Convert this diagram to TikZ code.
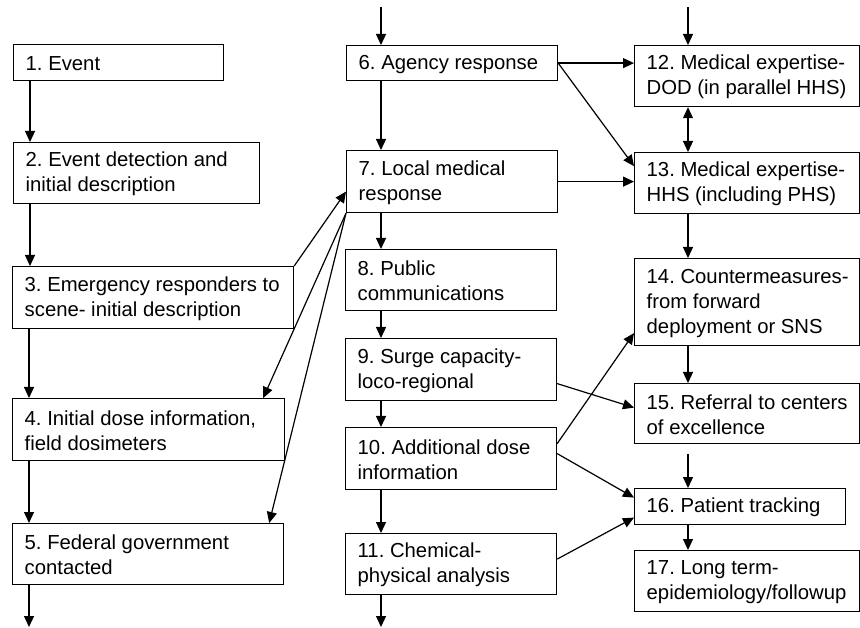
\documentclass[tikz,border=0pt]{standalone}
\usepackage{fontspec}
\setmainfont{Liberation Sans}
\frenchspacing
\usetikzlibrary{arrows.meta}
\newcommand\mybox[6]{%
  \node[boxnode, minimum width=#4-#2, minimum height=#5-#3] (#1) at (#2,#3) {};
  \node[txt] (#1t) at ([xshift=12.5pt,yshift=-1pt]#1.west) {#6};}
\begin{document}
\begin{tikzpicture}[x=1pt,y=-1pt,
  boxnode/.style={draw, line width=1.2pt, inner sep=0pt, anchor=north west},
  txt/.style={anchor=west, align=left, inner sep=0pt, font=\fontsize{20.3}{25}\selectfont\frenchspacing},
  arr/.style={line width=1.2pt, -{Triangle[length=11pt,width=10pt]}},
  darr/.style={line width=1.2pt, {Triangle[length=11pt,width=10pt]}-{Triangle[length=11pt,width=10pt]}},
]
\useasboundingbox (0,0) rectangle (860,628);
% left column
\mybox{b1}{13}{44}{223}{80}{1. Event}
\mybox{b2}{13}{142}{259}{203}{2. Event detection and\\initial description}
\mybox{b3}{12}{266}{293}{328}{3. Emergency responders to\\scene- initial description}
\mybox{b4}{12}{398}{284}{460}{4. Initial dose information,\\field dosimeters}
\mybox{b5}{12}{523}{283}{584}{5. Federal government\\contacted}
% middle column
\mybox{b6}{346}{45}{557}{80}{6. Agency response}
\mybox{b7}{346}{150}{557}{212}{7. Local medical\\response}
\mybox{b8}{345}{249}{556}{310}{8. Public\\communications}
\mybox{b9}{345}{338}{556}{400}{9. Surge capacity-\\loco-regional}
\mybox{b10}{345}{427}{556}{489}{10. Additional dose\\information}
\mybox{b11}{345}{533}{556}{594}{11. Chemical-\\physical analysis}
% right column
\mybox{b12}{634}{45}{859}{106}{12. Medical expertise-\\DOD (in parallel HHS)}
\mybox{b13}{634}{152}{859}{213}{13. Medical expertise-\\HHS (including PHS)}
\mybox{b14}{634}{258}{859}{345}{14. Countermeasures-\\from forward\\deployment or SNS}
\mybox{b15}{634}{383}{859}{443}{15. Referral to centers\\of excellence}
\mybox{b16}{634}{488}{845}{524}{16. Patient tracking}
\mybox{b17}{634}{550}{859}{611}{17. Long term-\\epidemiology/followup}

\coordinate (o5) at (29,627);
\coordinate (i6) at (381,7);
\coordinate (o11) at (381,627);
\coordinate (i12) at (688,7);

% left column arrows
\draw[arr] ([xshift=17pt]b1.south west) -- ([xshift=17pt]b1.south west |- b2.north);
\draw[arr] ([xshift=17pt]b2.south west) -- ([xshift=17pt]b2.south west |- b3.north);
\draw[arr] ([xshift=17pt]b3.south west) -- ([xshift=17pt]b3.south west |- b4.north);
\draw[arr] ([xshift=17pt]b4.south west) -- ([xshift=17pt]b4.south west |- b5.north);
\draw[arr] ([xshift=17pt]b5.south west) -- (o5);
% middle column arrows
\draw[arr] (i6) -- (i6 |- b6.north);
\draw[arr] (i6 |- b6.south) -- (i6 |- b7.north);
\draw[arr] (i6 |- b7.south) -- (i6 |- b8.north);
\draw[arr] (i6 |- b8.south) -- (i6 |- b9.north);
\draw[arr] (i6 |- b9.south) -- (i6 |- b10.north);
\draw[arr] (i6 |- b10.south) -- (i6 |- b11.north);
\draw[arr] (i6 |- b11.south) -- (o11);
% right column arrows
\draw[arr] (i12) -- (i12 |- b12.north);
\draw[darr] (i12 |- b12.south) -- (i12 |- b13.north);
\draw[arr] (i12 |- b13.south) -- (i12 |- b14.north);
\draw[arr] (i12 |- b14.south) -- (i12 |- b15.north);
\draw[arr] ([yshift=-10pt]i12 |- b15.south) -- (i12 |- b16.north);
\draw[arr] (i12 |- b16.south) -- (i12 |- b17.north);
% cross links
\draw[arr] (b6.east) -- (b6.east -| b12.west);
\draw[arr] (b6.east) -- ([yshift=17pt]b13.west);
\draw[arr] (b7.east) -- (b7.east -| b13.west);
\draw[arr] (b3.north east) -- ([yshift=-10pt]b7.west);
\draw[arr] (b7.south west) -- ([xshift=-22pt]b4.north east);
\draw[arr] (b7.south west) -- ([xshift=-15pt]b5.north east);
\draw[arr] ([yshift=-14pt]b9.east) -- ([yshift=6pt]b15.west);
\draw[arr] ([yshift=15pt]b10.east) -- ([yshift=-31pt]b14.west);
\draw[arr] ([yshift=5pt]b10.east) -- ([yshift=9pt]b16.west);
\draw[arr] ([yshift=5pt]b11.east) -- ([yshift=-11pt]b16.west);
\end{tikzpicture}
\end{document}
